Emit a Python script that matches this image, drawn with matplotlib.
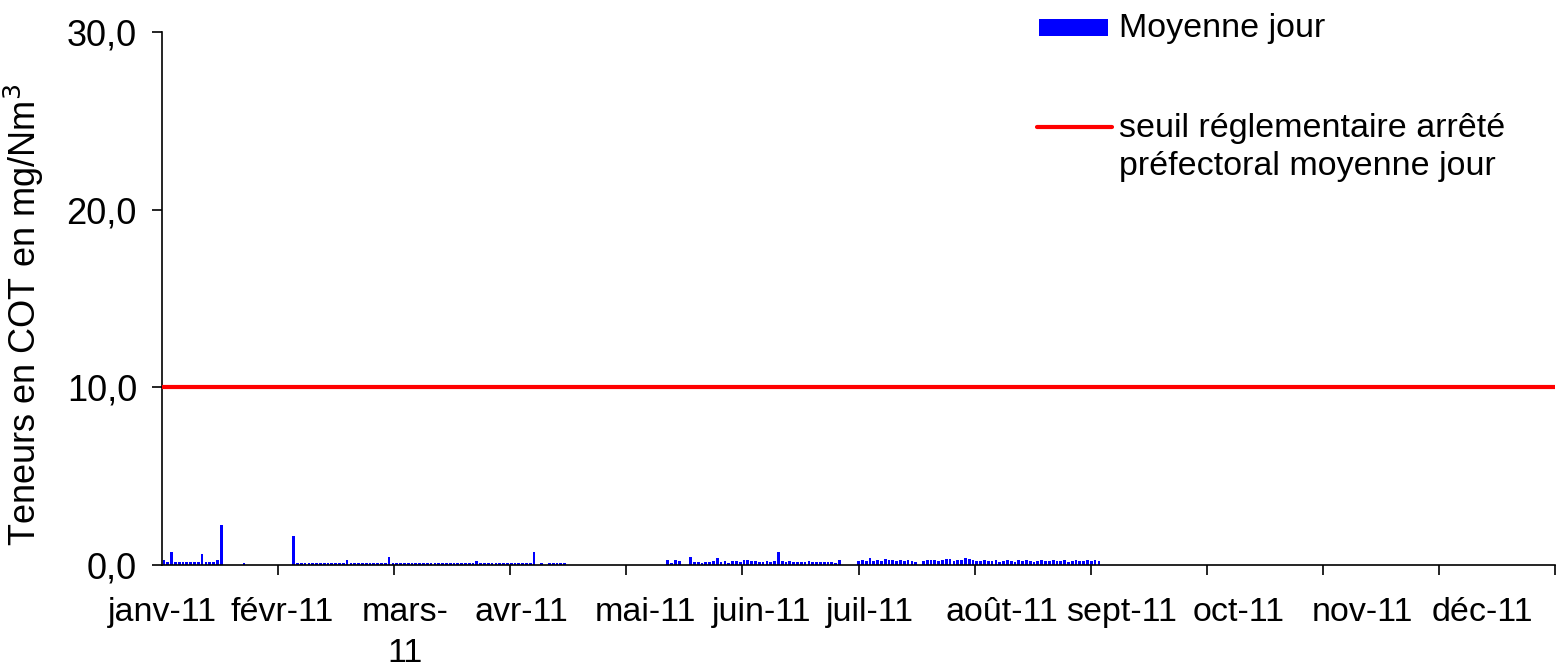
import numpy as np
import matplotlib
matplotlib.use("Agg")
import matplotlib.pyplot as plt
from matplotlib.patches import Rectangle
from matplotlib.lines import Line2D

plt.rcParams['font.family'] = ['Liberation Sans', 'DejaVu Sans']

# ---- data : moyennes journalieres COT (mg/Nm3), None = pas de mesure ----
N = None
janv = [0.30, 0.15, 0.75, 0.15, 0.15, 0.15, 0.15, 0.15, 0.15, 0.15, 0.62, 0.15, 0.15, 0.15, 0.30, 2.25,
        N, N, N, N, N, 0.12, N, N, N, N, N, N, N, N, N]
fevr = [N, N, N, 1.65] + [0.13] * 13 + [0.26] + [0.13] * 10
mars = [0.43] + [0.13] * 22 + [0.25] + [0.13] * 7
avr = [0.13] * 7 + [0.71, N, 0.10, N] + [0.12] * 5 + [N] * 14
mai = [N] * 12 + [0.28, 0.12, 0.28, 0.25, N, N, 0.47, 0.15, 0.15, 0.13, 0.15, 0.15,
                  0.20, 0.40, 0.15, 0.20, 0.12, 0.20, 0.25]
juin = [0.15, 0.30, 0.30, 0.25, 0.20, 0.18, 0.15, 0.20, 0.15, 0.25, 0.75, 0.20, 0.15, 0.25, 0.15,
        0.18, 0.15, 0.15, 0.20, 0.15, 0.15, 0.18, 0.15, 0.15, 0.15, 0.12, 0.28, N, N, N]
juil = [N, 0.22, 0.30, 0.20, 0.38, 0.25, 0.30, 0.22, 0.35, 0.30, 0.28, 0.25, 0.30, 0.25, 0.28, 0.20,
        0.18, N, 0.25, 0.28, 0.28, 0.30, 0.22, 0.30, 0.35, 0.32, 0.22, 0.30, 0.28, 0.40, 0.32]
aout = [0.30, 0.25, 0.25, 0.28, 0.20, 0.25, 0.28, 0.15, 0.25, 0.28, 0.25, 0.18, 0.28, 0.25, 0.28, 0.25,
        0.18, 0.25, 0.28, 0.25, 0.25, 0.28, 0.20, 0.25, 0.28, 0.18, 0.25, 0.28, 0.25, 0.20, 0.28]
sept = [0.25, 0.28, 0.25] + [N] * 27

seuil = 10.0
mois = ['janv-11', 'févr-11', 'mars-\n11', 'avr-11', 'mai-11', 'juin-11', 'juil-11',
        'août-11', 'sept-11', 'oct-11', 'nov-11', 'déc-11']
yticks = [0, 10, 20, 30]

# ---- series ----
vals = janv + fevr + mars + avr + mai + juin + juil + aout + sept
vals = vals + [N] * (365 - len(vals))
vals = np.array([np.nan if v is None else v for v in vals], dtype=float)
days = np.arange(365)

fig = plt.figure(figsize=(15.57, 6.70), dpi=100)
W, H = 1557.0, 670.0
ax = fig.add_axes([162 / W, 105 / H, 1393 / W, 533 / H])

ax.bar(days + 0.5, vals, width=0.72, color='#0000FF', linewidth=0, zorder=2)
ax.plot([0, 365], [seuil, seuil], color='#FF0000', lw=3.0, solid_capstyle='butt', zorder=3, clip_on=False)

ax.set_xlim(0, 365)
ax.set_ylim(0, 30)

# y axis
ax.set_yticks(yticks)
ax.set_yticklabels([f"{v:.1f}".replace('.', ',') for v in yticks], fontsize=26)
ax.tick_params(axis='y', length=7, width=1.2, pad=11, direction='out')
ax.set_ylabel('Teneurs en COT en mg/Nm$^3$', fontsize=26)
ax.yaxis.set_label_coords(-0.0835, 0.469)

# x axis : tick marks evenly spaced, labels slightly spread like the original
ax.set_xticks(np.linspace(0, 365, 13), minor=True)
ax.tick_params(axis='x', which='minor', length=7, width=1.2, direction='out')
lab_pos = [0, 31.6, 63.7, 94.1, 126.6, 157.0, 185.5, 220.0, 251.3, 282.0, 314.5, 345.9]
ax.set_xticks(lab_pos)
ax.set_xticklabels(mois, fontsize=24.5, linespacing=1.4)
ax.tick_params(axis='x', which='major', length=0, pad=23)

for s in ['top', 'right']:
    ax.spines[s].set_visible(False)
for s in ['left', 'bottom']:
    ax.spines[s].set_linewidth(1.2)

# legend, drawn by hand to place it like the source
fig.patches.append(Rectangle((1039 / W, 1 - 36 / H), 69 / W, 17 / H,
                             transform=fig.transFigure, facecolor='#0000FF', edgecolor='none'))
fig.text(1119 / W, 1 - 28 / H, 'Moyenne jour', fontsize=24.5, va='center', ha='left')
fig.lines.append(Line2D([1037 / W, 1112 / W], [1 - 127 / H, 1 - 127 / H], transform=fig.transFigure,
                        color='#FF0000', lw=3.0, solid_capstyle='round'))
fig.text(1119 / W, 1 - 128 / H, 'seuil réglementaire arrêté', fontsize=24.5, va='center', ha='left')
fig.text(1119 / W, 1 - 166 / H, 'préfectoral moyenne jour', fontsize=24.5, va='center', ha='left')

fig.savefig('out.png', dpi=100)
